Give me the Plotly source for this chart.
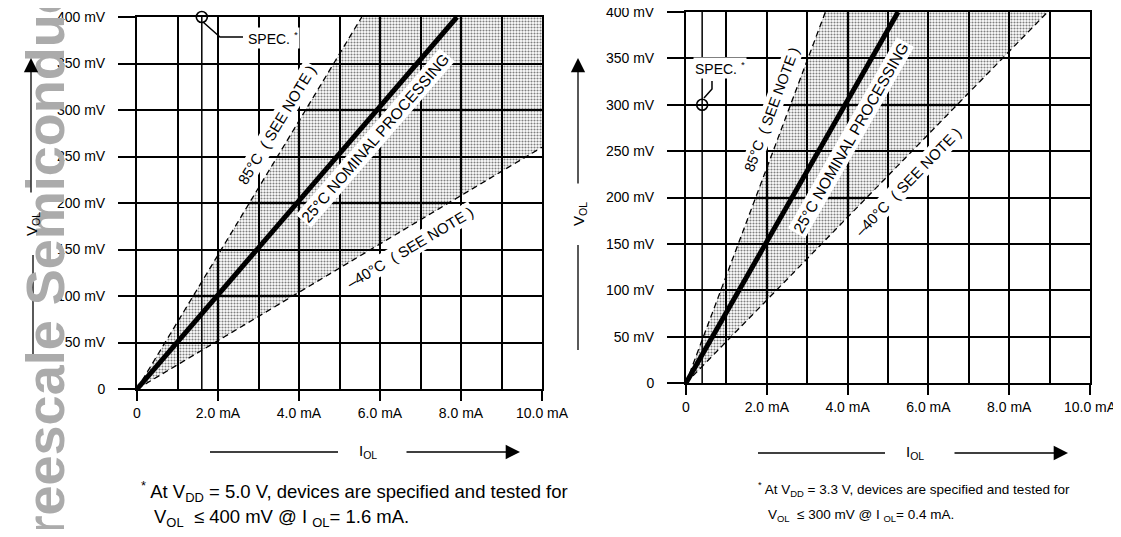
import plotly.graph_objects as go

OFF = 8            # default page body margin in the browser
W, H = 1121 - OFF, 537 - 2 * OFF

# ---------------- data ----------------
i_tickvals = [0, 2, 4, 6, 8, 10]
i_ticktext = ["0", "2.0 mA", "4.0 mA", "6.0 mA", "8.0 mA", "10.0 mA"]
v_tickvals = [0, 50, 100, 150, 200, 250, 300, 350, 400]
v_ticktext = ["0", "50 mV", "100 mV", "150 mV", "200 mV", "250 mV", "300 mV", "350 mV", "400 mV"]

# Left chart: VDD = 5.0 V
left_i_25 = [0, 7.9]
left_v_25 = [0, 400]
left_i_85 = [0, 5.55]
left_v_85 = [0, 400]
left_i_m40 = [0, 10.0]
left_v_m40 = [0, 260]
left_spec_i = [1.6]
left_spec_v = [400]

# Right chart: VDD = 3.3 V
right_i_25 = [0, 5.25]
right_v_25 = [0, 400]
right_i_85 = [0, 3.45]
right_v_85 = [0, 400]
right_i_m40 = [0, 8.95]
right_v_m40 = [0, 400]
right_spec_i = [0.4]
right_spec_v = [300]

I_MAX, V_MAX = 10, 400

FONT = "Liberation Sans, Arial, Helvetica, sans-serif"


def PX(px):
    return (px - OFF) / W


def PY(py):
    return 1 - (py - OFF) / H


def P(px, py):
    return PX(px), PY(py)


def band(i_hi, v_hi, i_lo, v_lo):
    xs, ys = list(i_hi), list(v_hi)
    if v_lo[-1] < V_MAX and i_hi[-1] < I_MAX:
        xs.append(I_MAX)
        ys.append(V_MAX)
    xs += i_lo[::-1]
    ys += v_lo[::-1]
    return xs, ys


fig = go.Figure()


def add_chart(xa, ya, i25, v25, i85, v85, im40, vm40, si, sv):
    bx, by = band(i85, v85, im40, vm40)
    fig.add_trace(go.Scatter(
        x=bx, y=by, xaxis=xa, yaxis=ya, mode="none", fill="toself",
        fillcolor="rgba(0,0,0,0)",
        fillpattern=dict(shape=".", size=3, solidity=0.4, fgcolor="#000000",
                         bgcolor="rgba(0,0,0,0)"),
        hoverinfo="skip", showlegend=False))
    # spec grid line
    fig.add_trace(go.Scatter(
        x=[si[0], si[0]], y=[0, V_MAX], xaxis=xa, yaxis=ya, mode="lines",
        line=dict(color="black", width=1.5), showlegend=False, hoverinfo="skip"))
    for ix, vy in ((i85, v85), (im40, vm40)):
        fig.add_trace(go.Scatter(
            x=ix, y=vy, xaxis=xa, yaxis=ya, mode="lines",
            line=dict(color="black", width=1.3, dash="6px,4px"),
            showlegend=False))
    fig.add_trace(go.Scatter(
        x=i25, y=v25, xaxis=xa, yaxis=ya, mode="lines",
        line=dict(color="black", width=5), showlegend=False))
    fig.add_trace(go.Scatter(
        x=si, y=sv, xaxis=xa, yaxis=ya, mode="markers", cliponaxis=False,
        marker=dict(symbol="circle-open", size=11, color="black",
                    line=dict(width=1.6, color="black")),
        showlegend=False))


add_chart("x", "y", left_i_25, left_v_25, left_i_85, left_v_85,
          left_i_m40, left_v_m40, left_spec_i, left_spec_v)
add_chart("x2", "y2", right_i_25, right_v_25, right_i_85, right_v_85,
          right_i_m40, right_v_m40, right_spec_i, right_spec_v)

xaxis_common = dict(
    range=[0, I_MAX], tickmode="array", tickvals=i_tickvals, ticktext=i_ticktext,
    showgrid=True, gridcolor="black", gridwidth=1.5, zeroline=False,
    showline=True, linecolor="black", linewidth=2, mirror=True,
    ticks="outside", ticklen=10, tickwidth=1.5, tickcolor="black",
    tickfont=dict(family=FONT, size=14, color="black"),
    minor=dict(tickmode="linear", tick0=0, dtick=1, showgrid=True,
               gridcolor="black", gridwidth=1.5, ticks=""),
    fixedrange=True, automargin=False, ticklabeloverflow="allow",
)
yaxis_common = dict(
    range=[0, V_MAX], tickmode="array", tickvals=v_tickvals, ticktext=v_ticktext,
    showgrid=True, gridcolor="black", gridwidth=1.5, zeroline=False,
    showline=True, linecolor="black", linewidth=2, mirror=True,
    ticks="outside", ticklen=17, tickwidth=1.5, tickcolor="black",
    ticklabelstandoff=10,
    tickfont=dict(family=FONT, size=14, color="black"),
    fixedrange=True, automargin=False, ticklabeloverflow="allow",
)

fig.update_layout(
    width=W, height=H,
    margin=dict(l=0, r=0, t=0, b=0, autoexpand=False),
    paper_bgcolor="white", plot_bgcolor="white",
    showlegend=False,
    xaxis=dict(domain=[PX(137), PX(542)], anchor="y", **xaxis_common),
    yaxis=dict(domain=[PY(389), PY(17)], anchor="x", **yaxis_common),
    xaxis2=dict(domain=[PX(686), PX(1090)], anchor="y2", **xaxis_common),
    yaxis2=dict(domain=[PY(383), PY(12)], anchor="x2", **yaxis_common),
)

ann = []
shapes = []

# watermark (drawn first so other annotations sit on top)
wx, wy = P(44, 572)
ann.append(dict(text="Freescale Semiconductor, Inc.", xref="paper", yref="paper",
                x=wx, y=wy, xanchor="center", yanchor="bottom", textangle=-90,
                showarrow=False,
                font=dict(family="Liberation Sans, Arial, sans-serif", size=54,
                          color="#ababab", weight="bold")))


def label(text, xr, yr, x, y, angle, size=15, **kw):
    d = dict(text=text, xref=xr, yref=yr, x=x, y=y, textangle=angle,
             xanchor="center", yanchor="middle",
             showarrow=False, font=dict(family=FONT, size=size, color="black"),
             bgcolor="white", borderpad=1)
    d.update(kw)
    ann.append(d)


# curve labels (data coords)
label("85°C  ( SEE NOTE )", "x", "y", 3.46, 284, -58.8)
label("25°C NOMINAL PROCESSING", "x", "y", 5.90, 270, -49.2, size=15.5)
label("–40°C  ( SEE NOTE )", "x", "y", 6.74, 152, -30.8)
label("85°C  ( SEE NOTE )", "x2", "y2", 2.13, 295, -69.4, size=14.5)
label("25°C NOMINAL PROCESSING", "x2", "y2", 4.08, 265, -60.3, size=15.5)
label("–40°C  ( SEE NOTE )", "x2", "y2", 5.50, 217, -45.8)

# SPEC labels
px, py = P(246, 38)
label("SPEC. <sup>*</sup>", "paper", "paper", px, py, 0, size=14, xanchor="left")
px, py = P(720, 68)
label("SPEC. <sup>*</sup>", "paper", "paper", px, py, 0, size=14)


def path(points):
    s = ""
    for k, (a, b) in enumerate(points):
        x, y = P(a, b)
        s += ("M" if k == 0 else " L") + f" {x:.5f},{y:.5f}"
    return s


shapes.append(dict(type="path", xref="paper", yref="paper",
                   path=path([(203, 22), (220, 37), (243, 37)]),
                   line=dict(color="black", width=1.5)))
shapes.append(dict(type="path", xref="paper", yref="paper",
                   path=path([(704, 98), (712, 89), (712, 81)]),
                   line=dict(color="black", width=1.5)))


# axis-title arrows and lines
def arrow(tipx, tipy, tailx, taily):
    x, y = P(tipx, tipy)
    ann.append(dict(x=x, y=y, xref="paper", yref="paper", text="",
                    showarrow=True, ax=tailx - tipx, ay=taily - tipy,
                    arrowhead=2, arrowsize=2.2, arrowwidth=1.3,
                    arrowcolor="black", standoff=0))


def seg(x0, y0, x1, y1):
    a, b = P(x0, y0)
    c, d = P(x1, y1)
    shapes.append(dict(type="line", xref="paper", yref="paper",
                       x0=a, y0=b, x1=c, y1=d,
                       line=dict(color="black", width=1.3)))


# left y
arrow(31, 58, 31, 194)
seg(33, 255, 33, 357)
px, py = P(33, 224)
label("V<sub>OL</sub>", "paper", "paper", px, py, -90, size=15, bgcolor="rgba(0,0,0,0)")
# right y
arrow(578, 58, 578, 185)
seg(578, 245, 578, 350)
px, py = P(579, 214)
label("V<sub>OL</sub>", "paper", "paper", px, py, -90, size=15, bgcolor="rgba(0,0,0,0)")
# left x
seg(210, 452, 338, 452)
arrow(520, 452, 405, 452)
px, py = P(368, 451)
label("I<sub>OL</sub>", "paper", "paper", px, py, 0, size=15, bgcolor="rgba(0,0,0,0)")
# right x
seg(758, 453, 885, 453)
arrow(1068, 453, 953, 453)
px, py = P(915, 452)
label("I<sub>OL</sub>", "paper", "paper", px, py, 0, size=15, bgcolor="rgba(0,0,0,0)")

# footnotes
px, py = P(139, 491)
label("<sup>*</sup> At V<sub>DD</sub> = 5.0 V, devices are specified and tested for",
      "paper", "paper", px, py, 0, size=18.5, xanchor="left", bgcolor="rgba(0,0,0,0)")
px, py = P(152, 518)
label("V<sub>OL</sub>  ≤ 400 mV @ I <sub>OL</sub>= 1.6 mA.",
      "paper", "paper", px, py, 0, size=18.5, xanchor="left", bgcolor="rgba(0,0,0,0)")
px, py = P(756, 489)
label("<sup>*</sup> At V<sub>DD</sub> = 3.3 V, devices are specified and tested for",
      "paper", "paper", px, py, 0, size=13.5, xanchor="left", bgcolor="rgba(0,0,0,0)")
px, py = P(766, 515)
label("V<sub>OL</sub>  ≤ 300 mV @ I <sub>OL</sub>= 0.4 mA.",
      "paper", "paper", px, py, 0, size=13.5, xanchor="left", bgcolor="rgba(0,0,0,0)")

fig.update_layout(annotations=ann, shapes=shapes)
fig.write_html("out.html")
